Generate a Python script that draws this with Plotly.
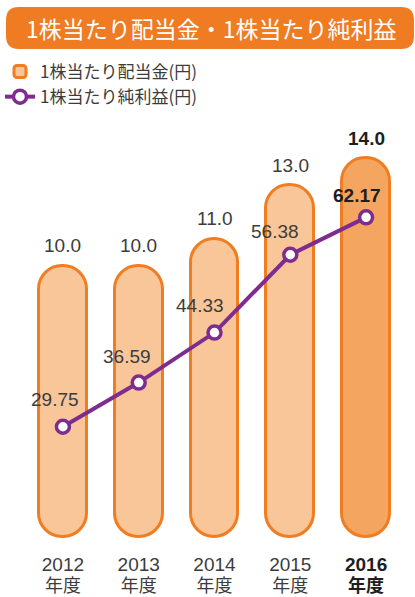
import plotly.graph_objects as go

# ---------------- data ----------------
years = ["2012", "2013", "2014", "2015", "2016"]
year_suffix = "年度"
dividend = [10.0, 10.0, 11.0, 13.0, 14.0]          # 1株当たり配当金(円)
eps = [29.75, 36.59, 44.33, 56.38, 62.17]          # 1株当たり純利益(円)
highlight = 4                                      # 2016 emphasised
title_text = "1株当たり配当金・1株当たり純利益"
name_div = "1株当たり配当金(円)"
name_eps = "1株当たり純利益(円)"

# ---------------- style / layout constants ----------------
W, H = 415, 597
ML, MR, MT, MB = 25, 11, 110, 52
ORANGE = "#F07D22"
FILL = "#F8C698"
FILL_HI = "#F4A55F"
PURPLE = "#7E2C8E"
TXT = "#3C3C3C"
TXT_HI = "#1E1E1E"
FONT = "Liberation Sans, Arial, Noto Sans CJK JP, sans-serif"
CJK = "Noto Sans CJK JP, sans-serif"

Y1_RANGE = [-0.379, 15.792]
Y2_RANGE = [11.44, 78.79]
BAR_BASE = -0.1
BAR_W = 0.633
LINE_W = 3

# eps label offsets in px (dx, dy)
eps_label_shift = [(-8, 27), (-12, 26), (-15, 27), (-15, 23), (-9, 22)]

def pxx(px):
    return (px - ML) / (W - ML - MR)

def pxy(py):
    return (H - MB - py) / (H - MT - MB)

idx = list(range(len(years)))
fills = [FILL_HI if i == highlight else FILL for i in idx]

fig = go.Figure()

fig.add_trace(go.Bar(
    x=idx, y=[v - BAR_BASE for v in dividend], base=[BAR_BASE] * len(idx), width=BAR_W,
    marker=dict(color=fills, line=dict(color=ORANGE, width=LINE_W), cornerradius="50%"),
    name=name_div, showlegend=True, hoverinfo="skip"))

fig.add_trace(go.Scatter(
    x=idx, y=eps, xaxis="x2", yaxis="y2", mode="lines+markers",
    line=dict(color=PURPLE, width=4),
    marker=dict(size=13, color="white", line=dict(color=PURPLE, width=3.5)),
    name=name_eps))

ann = []
for i, v in zip(idx, dividend):
    hi = i == highlight
    t = f"{v:.1f}"
    ann.append(dict(x=i, y=v, xref="x", yref="y", text=f"<b>{t}</b>" if hi else t,
                    showarrow=False, yanchor="middle", yshift=20,
                    font=dict(size=19, color=TXT_HI if hi else TXT, family=FONT)))
for i, v in zip(idx, eps):
    hi = i == highlight
    t = f"{v:.2f}"
    dx, dy = eps_label_shift[i]
    ann.append(dict(x=i, y=v, xref="x2", yref="y2", text=f"<b>{t}</b>" if hi else t,
                    showarrow=False, yanchor="middle", xshift=dx, yshift=dy,
                    font=dict(size=19, color=TXT_HI if hi else TXT, family=FONT)))
# title
ann.append(dict(x=pxx(211), y=pxy(28), xref="paper", yref="paper", text=title_text,
                showarrow=False, xanchor="center", yanchor="middle",
                font=dict(size=23, color="white", family=CJK)))

# title banner (rounded rectangle)
hw, hh, r = 204, 21, 13
banner = (f"M{-hw + r},{-hh} L{hw - r},{-hh} Q{hw},{-hh} {hw},{-hh + r} "
          f"L{hw},{hh - r} Q{hw},{hh} {hw - r},{hh} L{-hw + r},{hh} "
          f"Q{-hw},{hh} {-hw},{hh - r} L{-hw},{-hh + r} Q{-hw},{-hh} {-hw + r},{-hh} Z")
shapes = [dict(type="path", xref="paper", yref="paper", xsizemode="pixel", ysizemode="pixel",
               xanchor=pxx(210), yanchor=pxy(28), path=banner,
               fillcolor="#EF7B23", line=dict(width=0), layer="below")]

def tick_year(i, y):
    return f"<b><span style='color:{TXT_HI}'>{y}</span></b>" if i == highlight else y

fig.update_layout(
    width=W, height=H, margin=dict(l=ML, r=MR, t=MT, b=MB, autoexpand=False),
    paper_bgcolor="white", plot_bgcolor="white",
    barmode="overlay", bargap=0,
    font=dict(family=FONT, color=TXT),
    xaxis=dict(range=[-0.5, len(idx) - 0.5], tickvals=idx,
               ticktext=[tick_year(i, y) for i, y in zip(idx, years)],
               showgrid=False, zeroline=False, showline=False, ticks="", tickangle=0,
               ticklabelstandoff=6, tickfont=dict(size=19, color=TXT, family=FONT), fixedrange=True),
    xaxis2=dict(range=[-0.5, len(idx) - 0.5], tickvals=idx, overlaying="x", side="bottom", anchor="y2",
                ticktext=[f"<b><span style='color:{TXT_HI}'>{year_suffix}</span></b>" if i == highlight
                          else year_suffix for i in idx],
                showgrid=False, zeroline=False, showline=False, ticks="", tickangle=0,
                ticklabelstandoff=28, tickfont=dict(size=18, color=TXT, family=CJK)),
    yaxis=dict(range=Y1_RANGE, visible=False),
    yaxis2=dict(range=Y2_RANGE, visible=False, overlaying="y", anchor="x2"),
    legend=dict(x=pxx(0), y=pxy(54), xref="paper", yref="paper",
                xanchor="left", yanchor="top", orientation="v", itemwidth=30,
                font=dict(size=17, color=TXT, family=CJK), bgcolor="rgba(0,0,0,0)"),
    annotations=ann, shapes=shapes,
    showlegend=True,
)

fig.write_html("out.html")
